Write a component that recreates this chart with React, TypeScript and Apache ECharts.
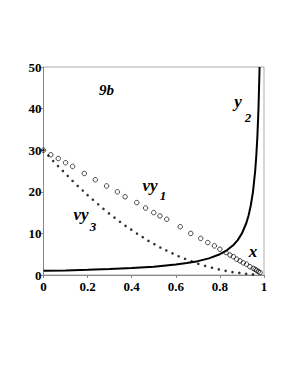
import React, { useEffect, useRef } from "react";
import * as echarts from "echarts";

// y2 curve (solid)
const y2X = [0, 0.1, 0.2, 0.3, 0.4, 0.5, 0.6, 0.65, 0.7, 0.75, 0.8, 0.83, 0.86, 0.88, 0.9, 0.92, 0.93, 0.94, 0.95, 0.96, 0.965, 0.97, 0.975, 0.98];
const y2Y = [1, 1.11, 1.25, 1.43, 1.67, 2, 2.5, 2.86, 3.33, 4, 5, 5.88, 7.14, 8.33, 10, 12.5, 14.3, 16.7, 20, 25, 28.6, 33.3, 40, 50];

// vy1 (open circles)
const vy1X = [0, 0.033, 0.067, 0.1, 0.132, 0.185, 0.235, 0.286, 0.335, 0.37, 0.423, 0.463, 0.5, 0.528, 0.559, 0.62, 0.668, 0.713, 0.745, 0.775, 0.8, 0.828, 0.846, 0.861, 0.876, 0.891, 0.906, 0.921, 0.936, 0.951, 0.96, 0.967, 0.974, 0.982];
const vy1Y = [30, 28.9, 28.0, 27.0, 26.1, 24.4, 22.9, 21.4, 20.0, 18.8, 17.4, 16.1, 15.0, 14.2, 13.4, 11.6, 10.0, 8.8, 7.8, 7.0, 6.2, 5.4, 4.8, 4.4, 3.8, 3.4, 2.9, 2.6, 2.0, 1.6, 1.35, 1.1, 0.85, 0.6];

// vy3 (dots)
const vy3X = [0, 0.022, 0.044, 0.066, 0.088, 0.11, 0.132, 0.155, 0.178, 0.2, 0.224, 0.248, 0.272, 0.297, 0.322, 0.347, 0.372, 0.398, 0.424, 0.45, 0.476, 0.503, 0.53, 0.557, 0.585, 0.613, 0.642, 0.672, 0.702, 0.733, 0.764, 0.795, 0.826, 0.857, 0.888, 0.919, 0.95];
const vy3Y = [30, 28.7, 27.4, 26.2, 25.0, 23.8, 22.6, 21.4, 20.3, 19.2, 18.1, 17.0, 15.9, 14.8, 13.8, 12.8, 11.8, 10.9, 9.95, 9.1, 8.2, 7.4, 6.6, 5.9, 5.2, 4.5, 3.9, 3.3, 2.7, 2.2, 1.75, 1.35, 1.0, 0.7, 0.5, 0.3, 0.15];

const X_MIN = 0, X_MAX = 1, X_STEP = 0.2;
const Y_MIN = 0, Y_MAX = 50, Y_STEP = 10;

const zip = (xs: number[], ys: number[]) => xs.map((x, i) => [x, ys[i]]);

const SERIF = "Liberation Serif";

export default function App() {
  const ref = useRef<HTMLDivElement>(null);
  useEffect(() => {
    if (!ref.current) return;
    const chart = echarts.init(ref.current, undefined, { renderer: "svg" });
    const lbl = (text: string, x: number, y: number, size: number) => ({
      type: "text",
      x,
      y,
      style: {
        text,
        fontFamily: SERIF,
        fontStyle: "italic",
        fontWeight: "bold",
        fontSize: size,
        fill: "#000",
        align: "center",
        verticalAlign: "middle",
      },
    });
    chart.setOption({
      animation: false,
      backgroundColor: "#fff",
      grid: {
        left: 43.5,
        top: 67,
        width: 220.5,
        height: 208,
        show: true,
        borderColor: "#aaa",
        borderWidth: 1,
      },
      xAxis: {
        type: "value",
        min: X_MIN,
        max: X_MAX,
        interval: X_STEP,
        axisLine: { lineStyle: { color: "#888", width: 1 } },
        axisTick: { show: true, length: 3, lineStyle: { color: "#888" } },
        splitLine: { show: false },
        axisLabel: {
          color: "#000",
          fontWeight: "bold",
          fontFamily: SERIF,
          fontSize: 13,
          margin: 5,
        },
      },
      yAxis: {
        type: "value",
        min: Y_MIN,
        max: Y_MAX,
        interval: Y_STEP,
        axisLine: { show: true, lineStyle: { color: "#888", width: 1 } },
        axisTick: { show: true, length: 3, lineStyle: { color: "#888" } },
        splitLine: { show: false },
        axisLabel: {
          color: "#000",
          fontWeight: "bold",
          fontFamily: SERIF,
          fontSize: 13,
          margin: 2,
        },
      },
      series: [
        {
          type: "scatter",
          data: zip(vy3X, vy3Y),
          symbol: "circle",
          symbolSize: 2.6,
          itemStyle: { color: "#000" },
          z: 2,
        },
        {
          type: "scatter",
          data: zip(vy1X, vy1Y),
          symbol: "circle",
          symbolSize: 4.5,
          itemStyle: { color: "rgba(255,255,255,0)", borderColor: "#000", borderWidth: 0.9 },
          z: 3,
        },
        {
          type: "line",
          data: zip(y2X, y2Y),
          showSymbol: false,
          symbol: "none",
          lineStyle: { color: "#000", width: 2 },
          z: 4,
        },
      ],
      graphic: [
        lbl("9b", 106.5, 90, 15),
        lbl("y", 238, 101, 17),
        lbl("2", 248, 117, 13),
        lbl("vy", 150, 185, 17),
        lbl("1", 163, 195, 13),
        lbl("vy", 81, 214, 17),
        lbl("3", 93, 226, 13),
        lbl("x", 253, 251, 17),
      ],
    });
    return () => chart.dispose();
  }, []);
  return (
    <div
      ref={ref}
      style={{ position: "fixed", left: 0, top: 0, width: 289, height: 374 }}
    />
  );
}
